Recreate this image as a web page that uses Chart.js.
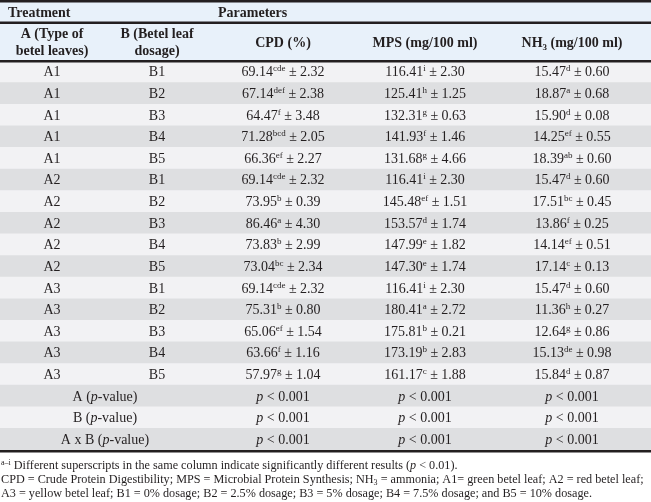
<!DOCTYPE html>
<html>
<head>
<meta charset="utf-8">
<script src="https://cdn.jsdelivr.net/npm/chart.js@4.4.1/dist/chart.umd.min.js"></script>
<style>
  html, body { margin: 0; padding: 0; background: #fff; }
  #wrap { width: 651px; height: 502px; }
</style>
</head>
<body>
<div id="wrap"><canvas id="tbl" width="651" height="502"></canvas></div>
<script>
// table data
const typeA = ['A1','A1','A1','A1','A1','A2','A2','A2','A2','A2','A3','A3','A3','A3','A3'];
const doseB = ['B1','B2','B3','B4','B5','B1','B2','B3','B4','B5','B1','B2','B3','B4','B5'];

const cpd    = [69.14, 67.14, 64.47, 71.28, 66.36, 69.14, 73.95, 86.46, 73.83, 73.04, 69.14, 75.31, 65.06, 63.66, 57.97];
const cpdSd  = [2.32, 2.38, 3.48, 2.05, 2.27, 2.32, 0.39, 4.30, 2.99, 2.34, 2.32, 0.80, 1.54, 1.16, 1.04];
const cpdSup = ['cde','def','f','bcd','ef','cde','b','a','b','bc','cde','b','ef','f','g'];

const mps    = [116.41, 125.41, 132.31, 141.93, 131.68, 116.41, 145.48, 153.57, 147.99, 147.30, 116.41, 180.41, 175.81, 173.19, 161.17];
const mpsSd  = [2.30, 1.25, 0.63, 1.46, 4.66, 2.30, 1.51, 1.74, 1.82, 1.74, 2.30, 2.72, 0.21, 2.83, 1.88];
const mpsSup = ['i','h','g','f','g','i','ef','d','e','e','i','a','b','b','c'];

const nh3    = [15.47, 18.87, 15.90, 14.25, 18.39, 15.47, 17.51, 13.86, 14.14, 17.14, 15.47, 11.36, 12.64, 15.13, 15.84];
const nh3Sd  = [0.60, 0.68, 0.08, 0.55, 0.60, 0.60, 0.45, 0.25, 0.51, 0.13, 0.60, 0.27, 0.86, 0.98, 0.87];
const nh3Sup = ['d','a','d','ef','ab','d','bc','f','ef','c','d','h','g','de','d'];

const pRows   = ['A', 'B', 'A x B'];
const pValues = ['< 0.001', '< 0.001', '< 0.001'];

const rowLabels = typeA.map((a, i) => a + ' ' + doseB[i]).concat(pRows.map(p => p + ' (p-value)'));

// look
const INK = '#231f20';
const LIGHT = '#f2f2f4';
const GRAY = '#dedfe1';
const HEAD = '#e8f1fa';
const SERIF = '"Liberation Serif", "Times New Roman", serif';
const F = '14px ' + SERIF;
const FB = 'bold 14px ' + SERIF;
const FI = 'italic 14px ' + SERIF;
const FS = '9px ' + SERIF;
const FSB = 'bold 9px ' + SERIF;
const N = '12.2px ' + SERIF;
const NI = 'italic 12.2px ' + SERIF;
const NS = '8px ' + SERIF;

// column centres in x-scale units
const colA = 52, colB = 157, colCpd = 283, colMps = 425, colNh3 = 572, colAB = 105;

function rich(ctx, parts, x, y, align) {
  let w = 0;
  parts.forEach(p => { ctx.font = p[1]; w += ctx.measureText(p[0]).width; });
  let cx = align === 'left' ? x : x - w / 2;
  parts.forEach(p => {
    ctx.font = p[1];
    ctx.fillText(p[0], cx, y + (p[2] || 0));
    cx += ctx.measureText(p[0]).width;
  });
}

function cell(v, sup, sd) {
  return [[v.toFixed(2), F], [sup, FS, -5], [' \u00b1 ' + sd.toFixed(2), F]];
}

const tablePlugin = {
  id: 'tableText',
  beforeDatasetsDraw(chart) {
    const ctx = chart.ctx;
    ctx.save();
    ctx.fillStyle = HEAD;
    ctx.fillRect(0, 0, chart.width, chart.chartArea.top);
    ctx.restore();
  },
  afterDatasetsDraw(chart) {
    const ctx = chart.ctx;
    const x = chart.scales.x, y = chart.scales.y;
    const X = v => x.getPixelForValue(v);
    ctx.save();
    ctx.fillStyle = INK;
    ctx.textAlign = 'left';
    ctx.textBaseline = 'alphabetic';

    // rules
    ctx.fillRect(0, 0, chart.width, 2.5);
    ctx.fillRect(0, 21.5, chart.width, 2.5);
    ctx.fillRect(0, 60, chart.width, 2.5);
    ctx.fillRect(0, chart.chartArea.bottom, chart.width, 2.5);

    // header rows
    rich(ctx, [['Treatment', FB]], 8, 17, 'left');
    rich(ctx, [['Parameters', FB]], 218, 17, 'left');
    rich(ctx, [['A (Type of', FB]], X(colA), 37.5);
    rich(ctx, [['betel leaves)', FB]], X(colA), 54.5);
    rich(ctx, [['B (Betel leaf', FB]], X(colB), 37.5);
    rich(ctx, [['dosage)', FB]], X(colB), 54.5);
    rich(ctx, [['CPD (%)', FB]], X(colCpd), 46.5);
    rich(ctx, [['MPS (mg/100 ml)', FB]], X(colMps), 46.5);
    rich(ctx, [['NH', FB], ['3', FSB, 3], [' (mg/100 ml)', FB]], X(colNh3), 46.5);

    // body rows
    typeA.forEach((a, i) => {
      const by = y.getPixelForValue(i) + 4.6;
      rich(ctx, [[a, F]], X(colA), by);
      rich(ctx, [[doseB[i], F]], X(colB), by);
      rich(ctx, cell(cpd[i], cpdSup[i], cpdSd[i]), X(colCpd), by);
      rich(ctx, cell(mps[i], mpsSup[i], mpsSd[i]), X(colMps), by);
      rich(ctx, cell(nh3[i], nh3Sup[i], nh3Sd[i]), X(colNh3), by);
    });

    pRows.forEach((p, k) => {
      const by = y.getPixelForValue(typeA.length + k) + 4.6;
      rich(ctx, [[p + ' (', F], ['p', FI], ['-value)', F]], X(colAB), by);
      [colCpd, colMps, colNh3].forEach(c => {
        rich(ctx, [['p', FI], [' ' + pValues[k], F]], X(c), by);
      });
    });

    // footnotes
    rich(ctx, [['a\u2013i', NS, -4], [' Different superscripts in the same column indicate significantly different results (', N], ['p', NI], [' < 0.01).', N]], 1, 468.5, 'left');
    rich(ctx, [['CPD = Crude Protein Digestibility; MPS = Microbial Protein Synthesis; NH', N], ['3', NS, 2], [' = ammonia; A1= green betel leaf; A2 = red betel leaf;', N]], 1, 482.5, 'left');
    rich(ctx, [['A3 = yellow betel leaf; B1 = 0% dosage; B2 = 2.5% dosage; B3 = 5% dosage; B4 = 7.5% dosage; and B5 = 10% dosage.', N]], 1, 496.5, 'left');
    ctx.restore();
  }
};

new Chart(document.getElementById('tbl'), {
  type: 'bar',
  data: {
    labels: rowLabels,
    datasets: [{
      data: rowLabels.map(() => [0, 651]),
      backgroundColor: rowLabels.map((_, i) => i % 2 ? GRAY : LIGHT),
      borderWidth: 0,
      barPercentage: 1,
      categoryPercentage: 1
    }]
  },
  options: {
    indexAxis: 'y',
    responsive: false,
    animation: false,
    events: [],
    layout: { padding: { top: 61, bottom: 52, left: 0, right: 0 } },
    scales: {
      x: { type: 'linear', min: 0, max: 651, display: false },
      y: { display: false, offset: true }
    },
    plugins: { legend: { display: false }, tooltip: { enabled: false } }
  },
  plugins: [tablePlugin]
});
</script>
</body>
</html>
